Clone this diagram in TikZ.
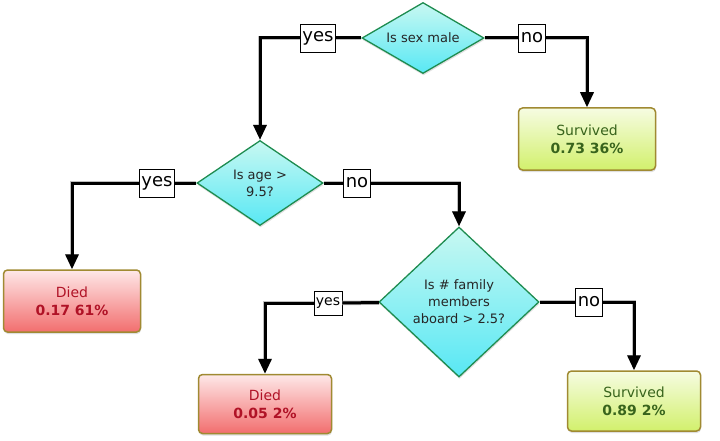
\documentclass[tikz,border=0pt]{standalone}
\usepackage{fontspec}
\setmainfont{DejaVu Sans}
\usetikzlibrary{shapes.geometric,arrows.meta,shadows}
\definecolor{qborder}{RGB}{30,140,80}
\definecolor{qtop}{RGB}{200,248,242}
\definecolor{qbottom}{RGB}{88,232,244}
\definecolor{leafborder}{RGB}{160,138,50}
\definecolor{livetop}{RGB}{246,252,226}
\definecolor{livebottom}{RGB}{210,240,108}
\definecolor{livetext}{RGB}{56,100,28}
\definecolor{deadtop}{RGB}{254,232,232}
\definecolor{deadbottom}{RGB}{242,110,110}
\definecolor{deadtext}{RGB}{176,18,38}
\tikzset{
    question/.style={diamond, draw=qborder, line width=1.3pt, top color=qtop,
    	bottom color=qbottom, inner sep=0pt, align=center, text=black!85,
    	font=\fontsize{13}{17}\selectfont,
    	drop shadow={opacity=0.25, shadow xshift=0.5pt, shadow yshift=-2pt}}
}
\tikzset{
    leaf/.style={rectangle, rounded corners=4pt, draw=leafborder, line width=1.5pt,
    	minimum width=135pt, minimum height=60pt, align=center,
    	font=\fontsize{14}{18}\selectfont,
    	drop shadow={opacity=0.25, shadow xshift=0.5pt, shadow yshift=-2pt}},
    survived/.style={leaf, top color=livetop, bottom color=livebottom, text=livetext},
    died/.style={leaf, top color=deadtop, bottom color=deadbottom, text=deadtext}
}
\tikzset{
    answer/.style={draw, fill=white, line width=0.7pt, inner xsep=2pt, inner ysep=1pt,
    	minimum height=28pt, font=\fontsize{18}{18}\selectfont}
}
\tikzset{
    branch/.style={line width=3pt, preaction={draw=black!25, line width=4.5pt}},
    arrow/.style={branch, -{Triangle[length=15pt,width=13pt]}}
}

\begin{document}
\begin{tikzpicture}[x=1pt, y=-1pt]
	\useasboundingbox (0,0) rectangle (720,441);
	\node (sex) [question, aspect=1.72, minimum width=122pt, minimum height=71pt]
		at (423,38) {Is sex male};
	\node (age) [question, aspect=1.48, minimum width=126pt, minimum height=85pt]
		at (260,183) {Is age >\\9.5?};
	\node (fam) [question, aspect=1.07, minimum width=160pt, minimum height=150pt]
		at (459,302) {Is \# family\\members\\aboard > 2.5?};

	\node (s1) [survived, minimum width=137pt, minimum height=62pt] at (587,139)
		{Survived\\\textbf{0.73 36\%}};
	\node (d1) [died, minimum width=137pt, minimum height=62pt] at (72,301)
		{Died\\\textbf{0.17 61\%}};
	\node (d2) [died, minimum width=133pt, minimum height=59pt] at (265,404)
		{Died\\\textbf{0.05 2\%}};
	\node (s2) [survived, minimum width=133pt, minimum height=60pt] at (634,401)
		{Survived\\\textbf{0.89 2\%}};

	\node (yes1) [answer] at (318,38) {yes};
	\node (no1) [answer] at (532,38) {no};
	\node (yes2) [answer] at (157,183) {yes};
	\node (no2) [answer] at (357,183) {no};
	\node (yes3) [answer, minimum height=24pt, font=\fontsize{14}{14}\selectfont]
		at (328,303) {yes};
	\node (no3) [answer] at (589,302) {no};

	\draw[branch] (sex) -- (yes1); \draw[arrow] (yes1) -| (age);
	\draw[branch] (sex) -- (no1); \draw[arrow] (no1) -| (s1);
	\draw[branch] (age) -- (yes2); \draw[arrow] (yes2) -| (d1);
	\draw[branch] (age) -- (no2); \draw[arrow] (no2) -| (fam);
	\draw[branch] (fam) -- (yes3); \draw[arrow] (yes3) -| (d2);
	\draw[branch] (fam) -- (no3); \draw[arrow] (no3) -| (s2);
\end{tikzpicture}
\end{document}
